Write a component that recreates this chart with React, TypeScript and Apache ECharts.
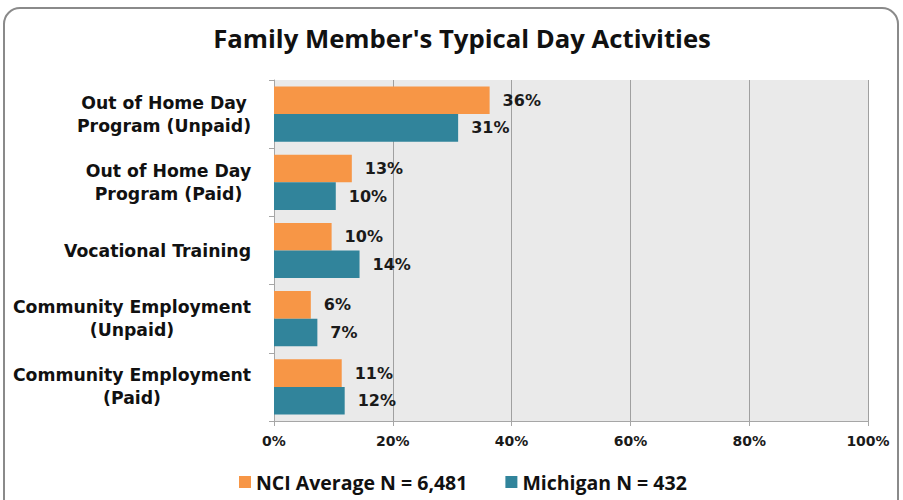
import React, { useEffect, useRef } from "react";
import * as echarts from "echarts";

const title = "Family Member's Typical Day Activities";
const categories = [
  "Out of Home Day\nProgram (Unpaid)",
  "Out of Home Day\nProgram (Paid)",
  "Vocational Training",
  "Community Employment\n(Unpaid)",
  "Community Employment\n(Paid)",
];
const seriesNames = ["NCI Average N = 6,481", "Michigan N = 432"];
const nciValues = [36.3, 13.1, 9.7, 6.2, 11.4];
const michiganValues = [31.0, 10.4, 14.4, 7.3, 11.9];
const xTicks = [0, 20, 40, 60, 80, 100];

const LABEL_FONT = '"DejaVu Sans", Verdana, sans-serif';
const HEAD_FONT = '"Open Sans", sans-serif';

export default function App() {
  const ref = useRef<HTMLDivElement>(null);
  useEffect(() => {
    document.body.style.margin = "0";
    if (!ref.current) return;
    const chart = echarts.init(ref.current, undefined, { renderer: "svg" });

    const canvas = document.createElement("canvas");
    const ctx = canvas.getContext("2d")!;
    ctx.font = `bold 17.3px ${LABEL_FONT}`;
    const rich: Record<string, any> = {};
    categories.forEach((c, i) => {
      const w = Math.max(...c.split("\n").map((l) => ctx.measureText(l).width));
      rich["c" + i] = {
        width: Math.ceil(w) + 1,
        align: "center",
        fontFamily: LABEL_FONT,
        fontWeight: "bold",
        fontSize: 17.3,
        lineHeight: 23,
        color: "#111111",
      };
    });

    const labelOpt = {
      show: true,
      position: "right",
      distance: 13,
      formatter: (p: any) => Math.round(p.value) + "%",
      fontFamily: LABEL_FONT,
      fontWeight: "bold",
      fontSize: 16,
      color: "#1a1a1a",
    };

    chart.setOption({
      animation: false,
      backgroundColor: "#ffffff",
      title: {
        text: title,
        left: 457,
        textAlign: "center",
        top: 20,
        textStyle: {
          fontFamily: HEAD_FONT,
          fontWeight: "bold",
          fontSize: 25.7,
          color: "#111111",
        },
      },
      graphic: [
        {
          type: "rect",
          shape: { x: 4, y: 8, width: 894, height: 520, r: 16 },
          style: { fill: "none", stroke: "#8a8a8a", lineWidth: 2 },
          silent: true,
          z: -1,
        },
      ],
      legend: {
        left: 234,
        top: 467,
        itemWidth: 12,
        itemHeight: 12,
        itemGap: 38,
        icon: "rect",
        data: seriesNames,
        textStyle: {
          fontFamily: HEAD_FONT,
          fontWeight: "bold",
          fontSize: 19.5,
          color: "#111111",
          padding: [0, 0, 0, 0],
        },
      },
      grid: {
        left: 274,
        right: 35,
        top: 80,
        bottom: 79,
        show: true,
        backgroundColor: "#eaeaea",
        borderWidth: 0,
      },
      xAxis: {
        type: "value",
        min: 0,
        max: 100,
        interval: 20,
        axisLine: { show: true, lineStyle: { color: "#a6a6a6", width: 1 } },
        axisTick: { show: true, length: 5, lineStyle: { color: "#a6a6a6" } },
        splitLine: { show: true, lineStyle: { color: "#a0a0a0", width: 1 } },
        axisLabel: {
          formatter: (v: number) => (xTicks.includes(v) ? v + "%" : ""),
          fontFamily: LABEL_FONT,
          fontWeight: "bold",
          fontSize: 14,
          color: "#1a1a1a",
          margin: 13,
        },
      },
      yAxis: {
        type: "category",
        inverse: true,
        data: categories,
        axisLine: { show: true, lineStyle: { color: "#a6a6a6", width: 1 } },
        axisTick: { show: true, length: 5, lineStyle: { color: "#a6a6a6" } },
        axisLabel: {
          margin: 22,
          formatter: (v: string, i: number) =>
            v
              .split("\n")
              .map((l) => `{c${i}|${l}}`)
              .join("\n"),
          rich,
        },
      },
      series: [
        {
          name: seriesNames[0],
          type: "bar",
          data: nciValues,
          barGap: "0%",
          barCategoryGap: "19%",
          itemStyle: { color: "#f79646" },
          label: labelOpt,
        },
        {
          name: seriesNames[1],
          type: "bar",
          data: michiganValues,
          barGap: "0%",
          barCategoryGap: "19%",
          itemStyle: { color: "#31849b" },
          label: labelOpt,
        },
      ],
    });
    return () => chart.dispose();
  }, []);
  return <div ref={ref} style={{ width: 903, height: 500 }} />;
}
